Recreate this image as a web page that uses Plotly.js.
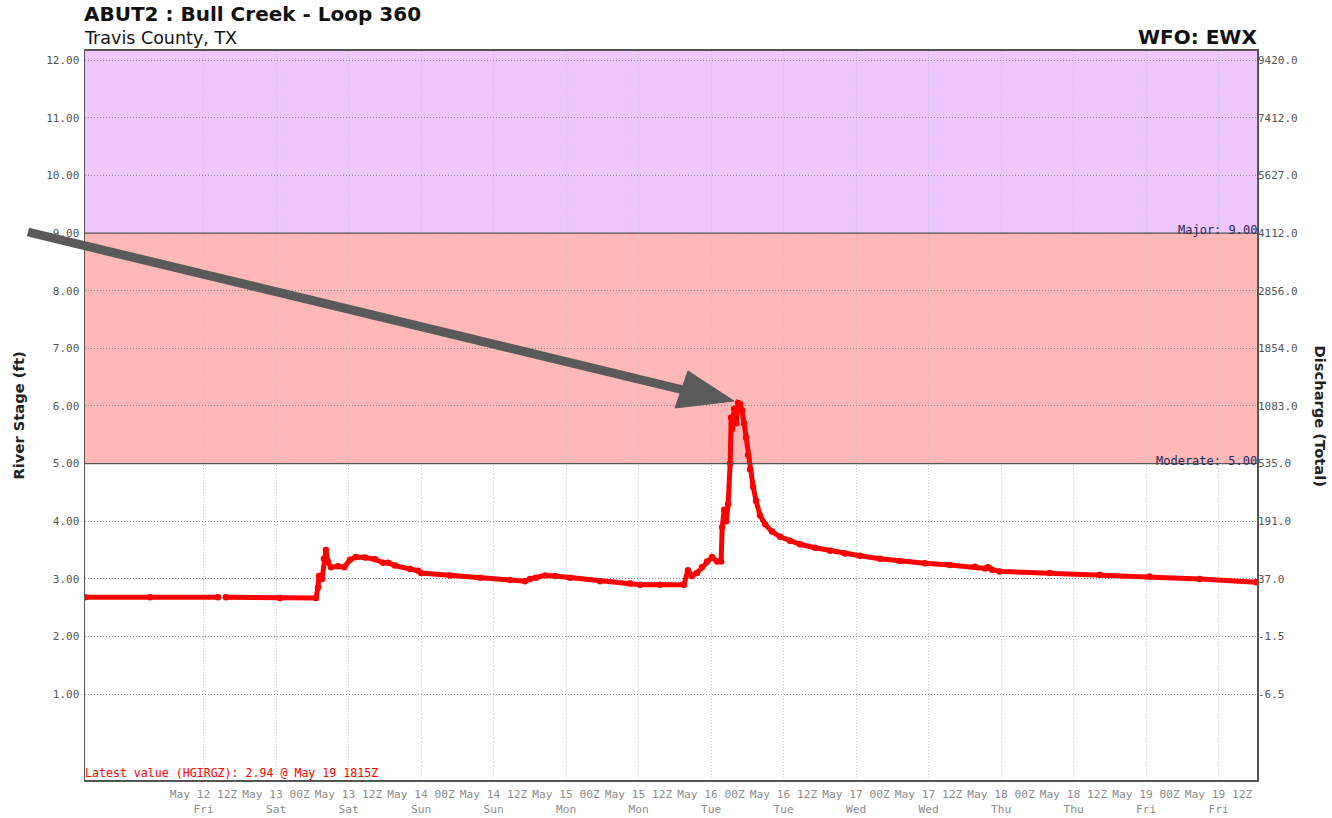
<!DOCTYPE html>
<html>
<head>
<meta charset="utf-8">
<script src="https://cdn.plot.ly/plotly-3.0.1.min.js"></script>
<style>
html,body{margin:0;padding:0;background:#fff;}
#chart{width:1332px;height:818px;}
</style>
</head>
<body>
<div id="chart"></div>
<script>
// ---- data ----
const obsTimes = [
 "2023-05-11 16:24","2023-05-12 03:08","2023-05-12 14:24","2023-05-12 15:00","2023-05-12 15:42","2023-05-13 00:40","2023-05-13 06:37",
 "2023-05-13 06:57","2023-05-13 07:07","2023-05-13 07:37","2023-05-13 07:56","2023-05-13 08:16","2023-05-13 08:36",
 "2023-05-13 09:06","2023-05-13 10:16","2023-05-13 11:16","2023-05-13 12:15","2023-05-13 13:14","2023-05-13 14:43",
 "2023-05-13 16:23","2023-05-13 17:42","2023-05-13 18:32","2023-05-13 19:42","2023-05-13 22:11","2023-05-13 23:31",
 "2023-05-14 00:00","2023-05-14 04:48","2023-05-14 09:46","2023-05-14 14:44","2023-05-14 17:13","2023-05-14 18:03",
 "2023-05-14 19:03","2023-05-14 20:32","2023-05-14 22:11","2023-05-15 00:40","2023-05-15 05:38","2023-05-15 10:36",
 "2023-05-15 12:15","2023-05-15 15:33","2023-05-15 19:31","2023-05-15 20:11","2023-05-15 20:50","2023-05-15 21:40",
 "2023-05-15 22:30","2023-05-15 23:20","2023-05-16 00:10","2023-05-16 01:00","2023-05-16 01:40","2023-05-16 01:51",
 "2023-05-16 02:11","2023-05-16 02:31","2023-05-16 02:50","2023-05-16 03:10","2023-05-16 03:20","2023-05-16 03:30",
 "2023-05-16 03:50","2023-05-16 04:10","2023-05-16 04:29","2023-05-16 04:49","2023-05-16 05:08","2023-05-16 05:29",
 "2023-05-16 05:48","2023-05-16 06:08","2023-05-16 06:28","2023-05-16 06:58","2023-05-16 07:28","2023-05-16 08:07",
 "2023-05-16 08:57","2023-05-16 10:06","2023-05-16 11:26","2023-05-16 13:05","2023-05-16 14:44","2023-05-16 17:13",
 "2023-05-16 19:42","2023-05-16 22:11","2023-05-17 00:39","2023-05-17 03:58","2023-05-17 07:16","2023-05-17 11:25",
 "2023-05-17 15:33","2023-05-17 19:41","2023-05-17 21:21","2023-05-17 21:51","2023-05-17 22:31","2023-05-17 23:47",
 "2023-05-18 08:04","2023-05-18 16:20","2023-05-19 00:37","2023-05-19 08:54","2023-05-19 18:15"
];
const stageFt = [
 2.68,2.68,2.68,null,2.68,2.67,2.67,
 2.85,3.05,3.00,3.35,3.50,3.30,
 3.20,3.22,3.20,3.33,3.38,3.37,
 3.34,3.28,3.28,3.23,3.17,3.14,
 3.10,3.06,3.02,2.98,2.96,3.00,
 3.02,3.06,3.05,3.02,2.96,2.92,
 2.90,2.90,2.90,3.15,3.05,3.10,
 3.20,3.30,3.38,3.30,3.30,3.90,
 4.20,4.00,4.30,5.00,5.80,5.60,
 5.95,5.70,6.05,6.03,5.92,5.70,
 5.45,5.15,4.90,4.60,4.35,4.10,
 3.95,3.82,3.73,3.66,3.60,3.54,
 3.49,3.44,3.40,3.35,3.31,3.27,
 3.24,3.21,3.18,3.20,3.16,3.13,
 3.10,3.07,3.04,3.00,2.94
];
const stageTicks = [1,2,3,4,5,6,7,8,9,10,11,12];
const stageTickText = ["1.00","2.00","3.00","4.00","5.00","6.00","7.00","8.00","9.00","10.00","11.00","12.00"];
const flowTickText = ["-6.5","-1.5","37.0","191.0","535.0","1083.0","1854.0","2856.0","4112.0","5627.0","7412.0","9420.0"];
const timeTicks = ["2023-05-12 12:00","2023-05-13 00:00","2023-05-13 12:00","2023-05-14 00:00","2023-05-14 12:00",
 "2023-05-15 00:00","2023-05-15 12:00","2023-05-16 00:00","2023-05-16 12:00","2023-05-17 00:00","2023-05-17 12:00",
 "2023-05-18 00:00","2023-05-18 12:00","2023-05-19 00:00","2023-05-19 12:00"];
const timeTickText = ["May 12 12Z<br>Fri","May 13 00Z<br>Sat","May 13 12Z<br>Sat","May 14 00Z<br>Sun","May 14 12Z<br>Sun",
 "May 15 00Z<br>Mon","May 15 12Z<br>Mon","May 16 00Z<br>Tue","May 16 12Z<br>Tue","May 17 00Z<br>Wed","May 17 12Z<br>Wed",
 "May 18 00Z<br>Thu","May 18 12Z<br>Thu","May 19 00Z<br>Fri","May 19 12Z<br>Fri"];
const majorStage = 9.0;
const moderateStage = 5.0;

// ---- layout helpers ----
const W = 1332, H = 818;
const L = 85, R = 1257, T = 51, B = 780;
const yRange = [-0.49, 12.16];
const xRange = ["2023-05-11 16:23", "2023-05-19 18:22"];
const px = x => (x - L) / (R - L);
const py = y => (B - y) / (B - T);
const mono = "DejaVu Sans Mono, monospace";
const sans = "DejaVu Sans, sans-serif";

// arrow geometry in pixels
const tail = [28, 232], tip = [734, 401];
const headA = [675, 408], headB = [688, 371];
const baseC = [(headA[0] + headB[0]) / 2, (headA[1] + headB[1]) / 2];

const trace = {
  x: obsTimes, y: stageFt, type: "scatter", mode: "lines+markers",
  line: {color: "#ff0000", width: 5},
  marker: {color: "#ff0000", size: 6.5},
  connectgaps: false, hoverinfo: "x+y", showlegend: false
};
// carrier so the discharge axis on the right is drawn
const rightAxisCarrier = {
  x: obsTimes, y: stageFt, yaxis: "y2", type: "scatter", mode: "lines",
  line: {width: 0, color: "rgba(0,0,0,0)"}, opacity: 0, hoverinfo: "skip", showlegend: false
};

const layout = {
  width: W, height: H,
  margin: {l: L, r: W - R, t: T, b: H - B, pad: 0},
  paper_bgcolor: "#ffffff", plot_bgcolor: "#ffffff",
  showlegend: false,
  xaxis: {
    type: "date", range: xRange, tickmode: "array", tickvals: timeTicks, ticktext: timeTickText,
    tickfont: {family: mono, size: 11.2, color: "#8c8c8c"}, ticklabelstandoff: 3,
    showgrid: true, gridcolor: "#c4c4c4", griddash: "1px,2px", gridwidth: 1,
    showline: true, linecolor: "#555555", linewidth: 2, mirror: true,
    ticks: "", zeroline: false, fixedrange: true
  },
  yaxis: {
    range: yRange, tickmode: "array", tickvals: stageTicks, ticktext: stageTickText,
    tickfont: {family: mono, size: 11, color: "#555555"}, ticklabelstandoff: 2,
    showgrid: true, gridcolor: "#8a8a8a", griddash: "1px,2px", gridwidth: 1,
    showline: true, linecolor: "#555555", linewidth: 1.5, mirror: true,
    ticks: "", zeroline: false, fixedrange: true
  },
  yaxis2: {
    range: yRange, overlaying: "y", side: "right", tickmode: "array", tickvals: stageTicks, ticktext: flowTickText,
    tickfont: {family: mono, size: 11, color: "#555555"},
    showgrid: false, zeroline: false, showline: false, ticks: "", fixedrange: true
  },
  shapes: [
    {type: "rect", xref: "paper", yref: "y", x0: 0, x1: 1, y0: majorStage, y1: yRange[1], fillcolor: "#efc6ff", line: {width: 0}, layer: "below"},
    {type: "rect", xref: "paper", yref: "y", x0: 0, x1: 1, y0: moderateStage, y1: majorStage, fillcolor: "#ffb8b8", line: {width: 0}, layer: "below"},
    {type: "line", xref: "paper", yref: "y", x0: 0, x1: 1, y0: majorStage, y1: majorStage, line: {color: "#555555", width: 1.3}, layer: "above"},
    {type: "line", xref: "paper", yref: "y", x0: 0, x1: 1, y0: moderateStage, y1: moderateStage, line: {color: "#555555", width: 1.3}, layer: "above"},
    {type: "line", xref: "paper", yref: "paper", x0: px(tail[0]), y0: py(tail[1]), x1: px(baseC[0] + 4), y1: py(baseC[1] + 1),
     line: {color: "#5a5a5a", width: 9}, layer: "above"},
    {type: "path", xref: "paper", yref: "paper",
     path: `M${px(headA[0])},${py(headA[1])} L${px(tip[0])},${py(tip[1])} L${px(headB[0])},${py(headB[1])} Z`,
     fillcolor: "#5a5a5a", line: {color: "#5a5a5a", width: 1}, layer: "above"}
  ],
  annotations: [
    {xref: "paper", yref: "paper", x: 0, y: py(14), xanchor: "left", yanchor: "middle", showarrow: false, xshift: -3,
     text: "<b>ABUT2 : Bull Creek - Loop 360</b>", font: {family: sans, size: 20, color: "#111111"}},
    {xref: "paper", yref: "paper", x: 0, y: py(38), xanchor: "left", yanchor: "middle", showarrow: false, xshift: -3,
     text: "Travis County, TX", font: {family: sans, size: 17.5, color: "#111111"}},
    {xref: "paper", yref: "paper", x: 1, y: py(37), xanchor: "right", yanchor: "middle", showarrow: false, xshift: 2,
     text: "<b>WFO: EWX</b>", font: {family: sans, size: 20, color: "#111111"}},
    {xref: "paper", yref: "paper", x: px(18), y: 0.5, xanchor: "center", yanchor: "middle", showarrow: false, textangle: -90,
     text: "<b>River Stage (ft)</b>", font: {family: sans, size: 14.7, color: "#222222"}},
    {xref: "paper", yref: "paper", x: px(1320), y: 0.5, xanchor: "center", yanchor: "middle", showarrow: false, textangle: 90,
     text: "<b>Discharge (Total)</b>", font: {family: sans, size: 14.7, color: "#222222"}},
    {xref: "paper", yref: "y", x: 1, y: majorStage, xanchor: "right", yanchor: "bottom", showarrow: false, xshift: 2,
     text: "Major: 9.00", font: {family: mono, size: 12, color: "#2a2a55"}, yshift: -6},
    {xref: "paper", yref: "y", x: 1, y: moderateStage, xanchor: "right", yanchor: "bottom", showarrow: false, xshift: 2,
     text: "Moderate: 5.00", font: {family: mono, size: 12, color: "#2a2a55"}, yshift: -6},
    {xref: "paper", yref: "paper", x: 0, y: py(773), xanchor: "left", yanchor: "middle", showarrow: false, xshift: -2,
     text: "Latest value (HGIRGZ): 2.94 @ May 19 1815Z", font: {family: mono, size: 11.6, color: "#ff0000"}}
  ]
};

Plotly.newPlot("chart", [trace, rightAxisCarrier], layout, {displayModeBar: false, staticPlot: true});
</script>
</body>
</html>
